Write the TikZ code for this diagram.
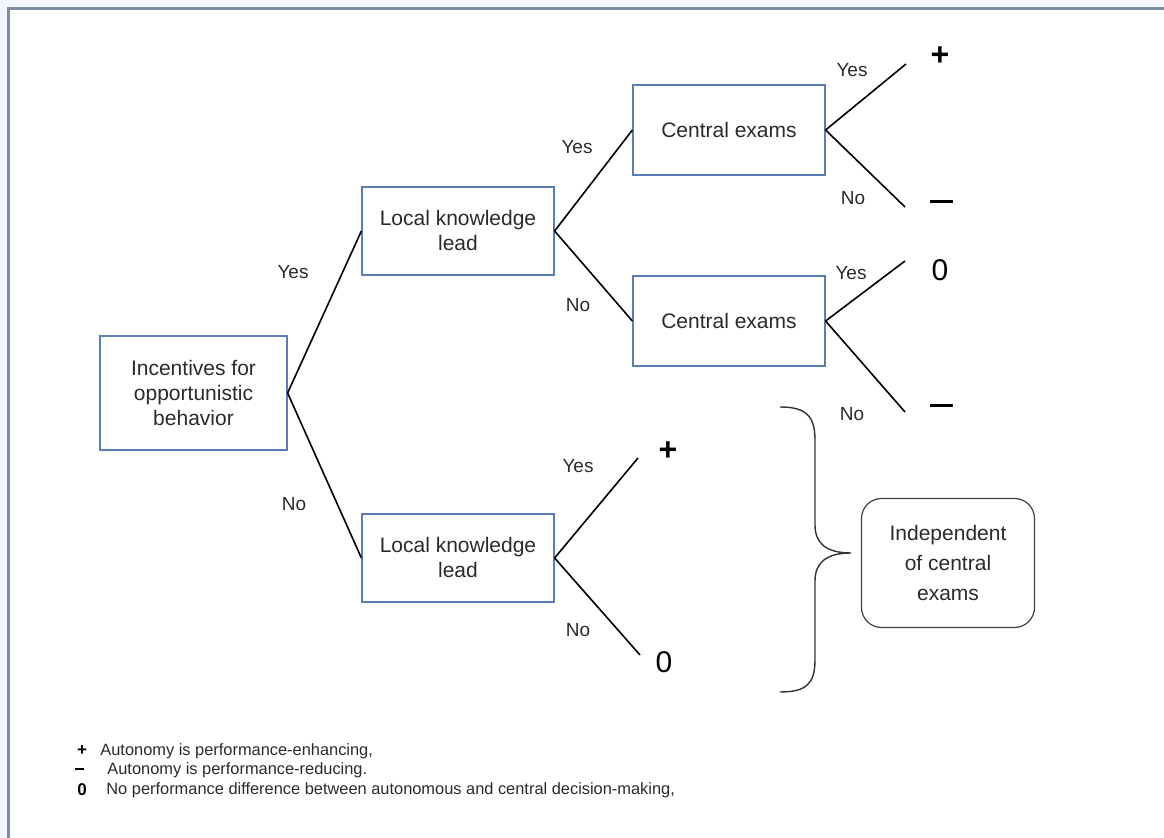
\documentclass[tikz,border=0pt]{standalone}
\usepackage{fontspec}
\setmainfont{Liberation Sans}
\usepackage{xcolor}
\usetikzlibrary{positioning}
\definecolor{boxblue}{HTML}{5A7DB8}
\definecolor{framegray}{HTML}{7F8EA3}
\definecolor{textgray}{HTML}{2A2A2A}
\newcommand{\bigminus}{\rule[0.25ex]{11.5pt}{1.5pt}}
\newcommand{\legminus}{\rule[0.3ex]{4.5pt}{1.1pt}}

\begin{document}
\begin{tikzpicture}[x=0.5pt,y=-0.5pt,
        box/.style={draw=boxblue,line width=0.6pt,align=center,inner sep=0pt,
                    text=textgray,font=\fontsize{10.5}{12.5}\selectfont},
        rbox/.style={draw=black!75,line width=0.6pt,rounded corners=10pt,align=center,
                    inner sep=0pt,minimum width=86.5pt,minimum height=64.5pt,
                    text=textgray,font=\fontsize{10.5}{15}\selectfont},
        branch/.style={black,line width=0.8pt},
        lbl/.style={text=textgray,font=\fontsize{9.5}{11}\selectfont,inner sep=0pt},
        res/.style={font=\fontsize{16}{18}\selectfont\bfseries,inner sep=0pt},
        zero/.style={font=\fontsize{15}{17}\selectfont,inner sep=0pt},
        legsym/.style={font=\fontsize{8.5}{10}\selectfont\bfseries,inner sep=0pt},
        leg/.style={anchor=west,text=textgray,font=\fontsize{8.2}{10}\selectfont,inner sep=0pt}]
        \useasboundingbox (0,0) rectangle (1164,838);
        % frame
        \fill[blue!4] (0,0) rectangle (1164,8);
        \fill[blue!4] (0,8) rectangle (7,838);
        \draw[framegray,line width=1.5pt] (8,838) -- (8,9) -- (1164,9);
        % decision boxes
        \node[box,minimum width=93.5pt,minimum height=57pt] (inc) at (193.5,393)
          {Incentives for\\opportunistic\\behavior};
        \node[box,minimum width=96pt,minimum height=44pt] (lk1) at (458,231)
          {Local knowledge\\lead};
        \node[box,minimum width=96pt,minimum height=44pt] (lk2) at (458,558)
          {Local knowledge\\lead};
        \node[box,minimum width=96pt,minimum height=45pt] (ce1) at (729,130)
          {Central exams};
        \node[box,minimum width=96pt,minimum height=45pt] (ce2) at (729,321)
          {Central exams};
        \node[rbox] (ind) at (948,563) {Independent\\of central\\exams};
        % branch ends
        \coordinate (e1) at (906,64);
        \coordinate (e2) at (905,207);
        \coordinate (e3) at (905,261);
        \coordinate (e4) at (905,412);
        \coordinate (e5) at (638,458);
        \coordinate (e6) at (640,655);
        \draw[branch] (inc.east) -- (lk1.west);
        \draw[branch] (inc.east) -- (lk2.west);
        \draw[branch] (lk1.east) -- (ce1.west);
        \draw[branch] (lk1.east) -- (ce2.west);
        \foreach \b/\e in {ce1/e1,ce1/e2,ce2/e3,ce2/e4,lk2/e5,lk2/e6}
          \draw[branch] (\b.east) -- (\e);
        % outcomes
        \foreach \n/\x/\y/\s in {r1/940/56/+,r2/941/204/\bigminus,
                                 r4/941/408/\bigminus,r5/668/451/+}
          \node[res] (\n) at (\x,\y) {\s};
        \node[zero] (r3) at (940,270) {0};
        \node[zero] (r6) at (664,662) {0};
        % branch labels
        \foreach \n/\x/\y/\t in {y1/293/272/Yes,n1/294/504/No,y2/577/147/Yes,n2/578/305/No,
                                 y3/852/70/Yes,n3/853/198/No,y4/851/273/Yes,n4/852/414/No,
                                 y5/578/466/Yes,n5/578/630/No}
          \node[lbl] (\n) at (\x,\y) {\t};
        % brace
        \coordinate (btop) at (780,407);
        \coordinate (bbot) at (780,692);
        \coordinate (btip) at (851,553);
        \draw[black!80,line width=0.7pt] (btop) .. controls (806,407) and (815,416) .. (815,440)
          -- (815,525) .. controls (815,543) and (826,553) .. (btip)
          .. controls (826,553) and (815,563) .. (815,581)
          -- (815,660) .. controls (815,684) and (806,692) .. (bbot);
        % legend
        \node[legsym] (s1) at (82,751) {+};
        \node[legsym] (s2) at (80,770) {\legminus};
        \node[legsym] (s3) at (82,790) {0};
        \node[leg] (l1) at (100,751) {Autonomy is performance-enhancing,};
        \node[leg] (l2) at (107,770) {Autonomy is performance-reducing.};
        \node[leg] (l3) at (106,790) {No performance difference between autonomous and central decision-making,};
\end{tikzpicture}
\end{document}
